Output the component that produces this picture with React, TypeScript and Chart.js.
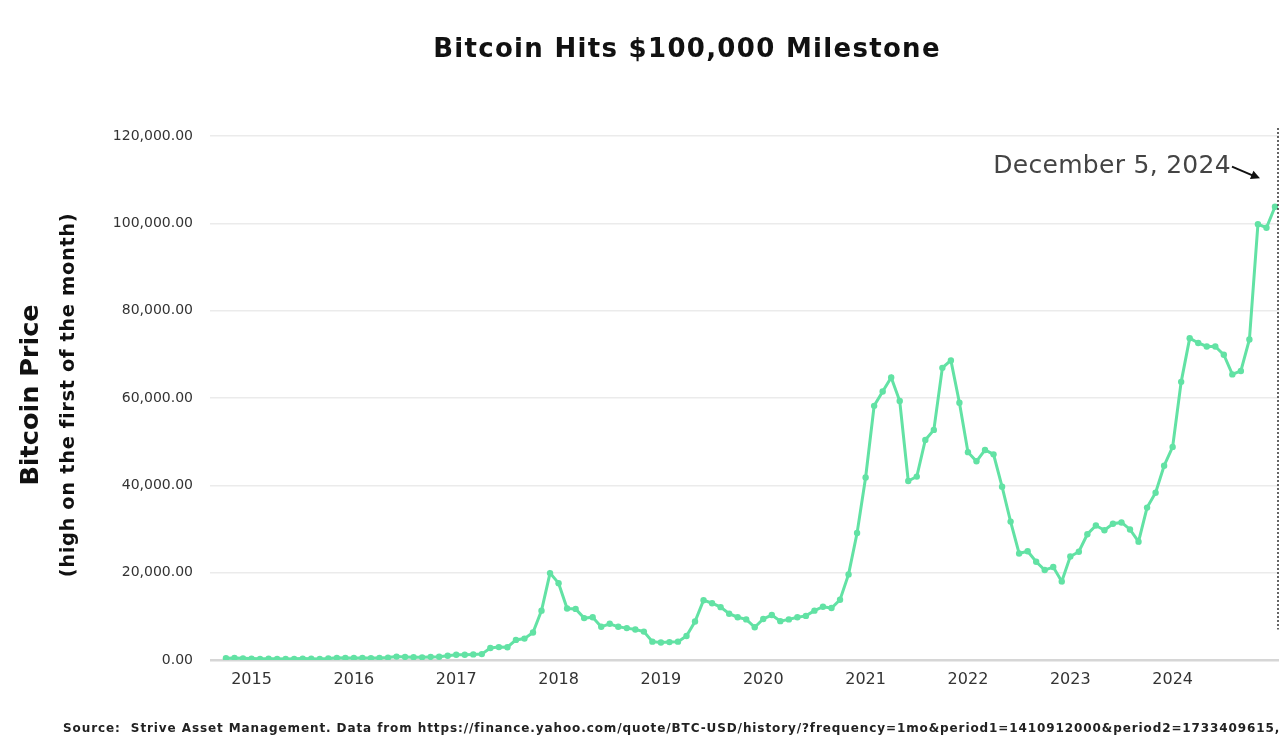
import React, { useEffect, useRef } from 'react';
import { Chart, registerables } from 'chart.js';

Chart.register(...registerables);

// Monthly periods (Yahoo Finance monthly rows), plus the partial row of Dec 5, 2024
const DATES: string[] = [
  '2014-10', '2014-11', '2014-12',
  '2015-01', '2015-02', '2015-03', '2015-04', '2015-05', '2015-06', '2015-07', '2015-08', '2015-09', '2015-10', '2015-11', '2015-12',
  '2016-01', '2016-02', '2016-03', '2016-04', '2016-05', '2016-06', '2016-07', '2016-08', '2016-09', '2016-10', '2016-11', '2016-12',
  '2017-01', '2017-02', '2017-03', '2017-04', '2017-05', '2017-06', '2017-07', '2017-08', '2017-09', '2017-10', '2017-11', '2017-12',
  '2018-01', '2018-02', '2018-03', '2018-04', '2018-05', '2018-06', '2018-07', '2018-08', '2018-09', '2018-10', '2018-11', '2018-12',
  '2019-01', '2019-02', '2019-03', '2019-04', '2019-05', '2019-06', '2019-07', '2019-08', '2019-09', '2019-10', '2019-11', '2019-12',
  '2020-01', '2020-02', '2020-03', '2020-04', '2020-05', '2020-06', '2020-07', '2020-08', '2020-09', '2020-10', '2020-11', '2020-12',
  '2021-01', '2021-02', '2021-03', '2021-04', '2021-05', '2021-06', '2021-07', '2021-08', '2021-09', '2021-10', '2021-11', '2021-12',
  '2022-01', '2022-02', '2022-03', '2022-04', '2022-05', '2022-06', '2022-07', '2022-08', '2022-09', '2022-10', '2022-11', '2022-12',
  '2023-01', '2023-02', '2023-03', '2023-04', '2023-05', '2023-06', '2023-07', '2023-08', '2023-09', '2023-10', '2023-11', '2023-12',
  '2024-01', '2024-02', '2024-03', '2024-04', '2024-05', '2024-06', '2024-07', '2024-08', '2024-09', '2024-10', '2024-11', '2024-12',
  '2024-12-05',
];

// Bitcoin price, high on the first of the month (USD)
const PRICES: number[] = [
  410, 450, 380,
  320, 265, 300, 260, 245, 265, 315, 285, 245, 335, 495, 470,
  460, 450, 440, 465, 550, 780, 700, 630, 610, 715, 750, 980,
  1190, 1210, 1280, 1350, 2760, 2950, 2920, 4600, 4900, 6300, 11300, 19900,
  17600, 11800, 11700, 9600, 9800, 7600, 8300, 7600, 7300, 7000, 6500, 4200,
  4000, 4100, 4200, 5500, 8800, 13700, 13000, 12100, 10600, 9800, 9300, 7500,
  9400, 10300, 8900, 9300, 9800, 10100, 11300, 12200, 11900, 13800, 19600, 29100,
  41800, 58200, 61500, 64700, 59300, 41000, 42000, 50400, 52700, 66900, 68600, 58900,
  47600, 45500, 48100, 47100, 39700, 31700, 24400, 24900, 22500, 20600, 21300, 18000,
  23700, 24800, 28800, 30800, 29700, 31200, 31500, 29900, 27100, 34900, 38300, 44500,
  48800, 63700, 73700, 72600, 71800, 71800, 69900, 65400, 66200, 73400, 99800, 99000,
  103800,
];

const TITLE = 'Bitcoin Hits $100,000 Milestone';
const Y_TITLE = 'Bitcoin Price';
const Y_SUBTITLE = '(high on the first of the month)';
const ANNOTATION = 'December 5, 2024';
const SOURCE =
  'Source:  Strive Asset Management. Data from https://finance.yahoo.com/quote/BTC-USD/history/?frequency=1mo&period1=1410912000&period2=1733409615,';

const Y_MIN = 0;
const Y_MAX = 120000;
const Y_STEP = 20000;

const LINE_COLOR = '#62e2a4';
const FONT = "'DejaVu Sans', sans-serif";

const overlayPlugin = {
  id: 'overlayText',
  afterDraw(chart: any) {
    const { ctx, chartArea, scales } = chart;
    const xs = scales.x;
    const ys = scales.y;
    const midY = (chartArea.top + chartArea.bottom) / 2;

    // Chart title
    ctx.save();
    ctx.fillStyle = '#111';
    ctx.textAlign = 'center';
    ctx.textBaseline = 'middle';
    ctx.font = `bold 26px ${FONT}`;
    (ctx as any).letterSpacing = '1.3px';
    ctx.fillText(TITLE, 687, 50);
    ctx.restore();

    // Y axis titles
    ctx.save();
    ctx.fillStyle = '#111';
    ctx.textAlign = 'center';
    ctx.textBaseline = 'middle';
    ctx.translate(31, midY - 3);
    ctx.rotate(-Math.PI / 2);
    ctx.font = `bold 25.5px ${FONT}`;
    ctx.fillText(Y_TITLE, 0, 0);
    ctx.restore();

    ctx.save();
    ctx.fillStyle = '#111';
    ctx.textAlign = 'center';
    ctx.textBaseline = 'middle';
    ctx.translate(69, midY - 3);
    ctx.rotate(-Math.PI / 2);
    ctx.font = `bold 19.5px ${FONT}`;
    (ctx as any).letterSpacing = '0.6px';
    ctx.fillText(Y_SUBTITLE, 0, 0);
    ctx.restore();

    // Source note
    ctx.save();
    ctx.fillStyle = '#222';
    ctx.font = `bold 12px ${FONT}`;
    (ctx as any).letterSpacing = '0.9px';
    ctx.textAlign = 'left';
    ctx.textBaseline = 'middle';
    ctx.fillText(SOURCE, 63, 729);
    ctx.restore();

    // Dotted marker line at the last data row
    const lastIdx = PRICES.length - 1;
    const xLast = xs.getPixelForValue(lastIdx);
    ctx.save();
    ctx.strokeStyle = '#333';
    ctx.lineWidth = 1.5;
    ctx.setLineDash([2, 2]);
    ctx.beginPath();
    ctx.moveTo(chartArea.right - 1, chartArea.top - 8);
    ctx.lineTo(chartArea.right - 1, ys.getPixelForValue(7000));
    ctx.stroke();
    ctx.restore();

    // Annotation text + arrow
    const textY = ys.getPixelForValue(113000);
    const textRight = xLast - 44;
    ctx.save();
    ctx.fillStyle = '#444';
    ctx.font = `25px ${FONT}`;
    (ctx as any).letterSpacing = '0.3px';
    ctx.textAlign = 'right';
    ctx.textBaseline = 'middle';
    ctx.fillText(ANNOTATION, textRight, textY);
    const tipX = xLast - 15;
    const tipY = ys.getPixelForValue(110300);
    const startX = textRight + 1;
    const startY = textY;
    ctx.strokeStyle = '#111';
    ctx.fillStyle = '#111';
    ctx.lineWidth = 2;
    ctx.beginPath();
    ctx.moveTo(startX, startY);
    ctx.lineTo(tipX - 4, tipY - 1.5);
    ctx.stroke();
    const ang = Math.atan2(tipY - startY, tipX - startX);
    ctx.beginPath();
    ctx.moveTo(tipX, tipY);
    ctx.lineTo(tipX - 9 * Math.cos(ang) + 4.5 * Math.sin(ang), tipY - 9 * Math.sin(ang) - 4.5 * Math.cos(ang));
    ctx.lineTo(tipX - 9 * Math.cos(ang) - 4.5 * Math.sin(ang), tipY - 9 * Math.sin(ang) + 4.5 * Math.cos(ang));
    ctx.closePath();
    ctx.fill();
    ctx.restore();
  },
};

export default function App() {
  const canvasRef = useRef<HTMLCanvasElement | null>(null);

  useEffect(() => {
    document.body.style.margin = '0';
    const canvas = canvasRef.current;
    if (!canvas) return;
    const points = PRICES.map((v, i) => ({ x: i, y: v }));
    const januaryIdx = DATES.map((d, i) => (d.length === 7 && d.endsWith('-01') ? i : -1)).filter((i) => i >= 0);

    const chart = new Chart(canvas, {
      type: 'line',
      data: {
        datasets: [
          {
            label: 'Bitcoin Price',
            data: points,
            borderColor: LINE_COLOR,
            backgroundColor: LINE_COLOR,
            borderWidth: 3,
            pointRadius: 3.2,
            pointBorderWidth: 0,
            pointBackgroundColor: LINE_COLOR,
            tension: 0,
          },
        ],
      },
      options: {
        responsive: false,
        animation: false,
        layout: { padding: { top: 136, left: 0, right: 2, bottom: 0 } },
        plugins: {
          legend: { display: false },
          tooltip: { enabled: false },
          title: { display: false },
        },
        scales: {
          x: {
            type: 'linear',
            min: -1.87,
            max: PRICES.length - 1 + 0.47,
            grid: { display: false, drawTicks: false },
            border: { display: false },
            afterBuildTicks: (scale: any) => {
              scale.ticks = januaryIdx.map((v) => ({ value: v }));
            },
            afterFit: (scale: any) => {
              scale.height = 78;
            },
            ticks: {
              autoSkip: false,
              maxRotation: 0,
              padding: 10,
              color: '#333',
              font: { family: FONT, size: 16 },
              callback: (value: any) => {
                const d = DATES[Math.round(Number(value))];
                return d ? d.slice(0, 4) : '';
              },
            },
          },
          y: {
            min: Y_MIN,
            max: Y_MAX,
            border: { display: false },
            grid: {
              drawTicks: false,
              color: (ctx: any) => (ctx.tick && ctx.tick.value === 0 ? '#d6d6d6' : '#ebebeb'),
              lineWidth: (ctx: any) => (ctx.tick && ctx.tick.value === 0 ? 2.5 : 1.5),
            },
            afterFit: (scale: any) => {
              scale.width = 210;
            },
            ticks: {
              stepSize: Y_STEP,
              padding: 17,
              color: '#333',
              font: { family: FONT, size: 14 },
              callback: (value: any) =>
                Number(value).toLocaleString('en-US', { minimumFractionDigits: 2, maximumFractionDigits: 2 }),
            },
          },
        },
      },
      plugins: [overlayPlugin],
    });

    return () => {
      chart.destroy();
    };
  }, []);

  return (
    <div style={{ width: 1283, height: 738, background: '#fff' }}>
      <canvas ref={canvasRef} width={1283} height={738} style={{ display: 'block' }} />
    </div>
  );
}
